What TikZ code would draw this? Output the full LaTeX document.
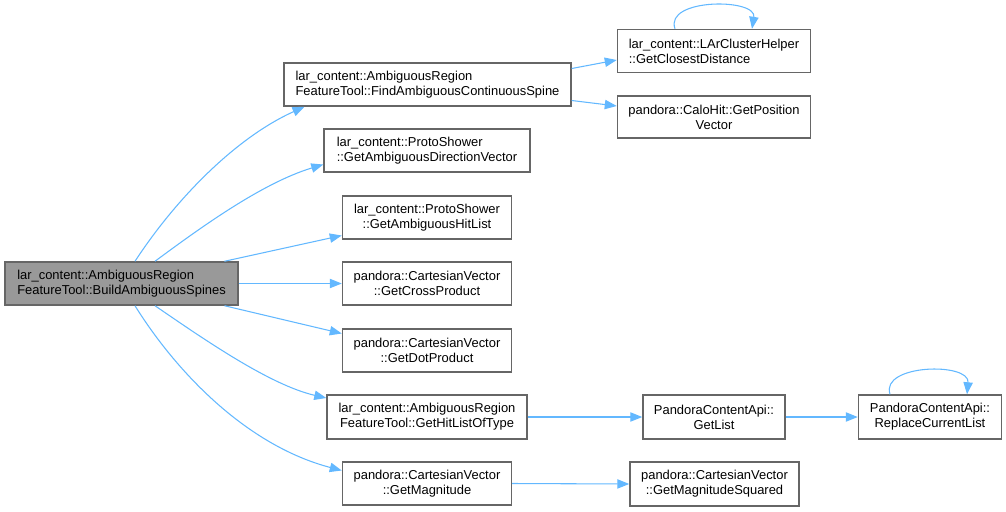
\documentclass[tikz,border=0pt]{standalone}
\usepackage{fontspec}
\setmainfont{Liberation Sans}
\usetikzlibrary{arrows.meta}
\definecolor{edgeblue}{HTML}{63B8FF}
\definecolor{boxborder}{HTML}{666666}
\definecolor{mainfill}{HTML}{999999}
\tikzset{
  fn/.style 2 args={draw=boxborder, line width=1.1pt, fill=white, inner sep=0pt,
    minimum width={#1*0.75pt}, minimum height={#2*0.75pt},
    font=\fontsize{9.7pt}{11.3pt}\selectfont, align=center},
  mainfn/.style={fill=mainfill},
  call/.style={draw=edgeblue, line width=0.8pt, -{Triangle[length=9pt,width=7pt]}},
}
\begin{document}
\begin{tikzpicture}[x=0.75pt,y=-0.75pt]
\useasboundingbox (0,0) rectangle (1006,511);
% nodes (centres in px)
\node[fn={233}{43}, mainfn, align=left] (main) at (121.5,283.5) {lar\_content::AmbiguousRegion\\FeatureTool::BuildAmbiguousSpines};
\node[fn={287}{43}, align=left] (find) at (427.5,84.5) {lar\_content::AmbiguousRegion\\FeatureTool::FindAmbiguousContinuousSpine};
\node[fn={193}{43}, align=left] (close) at (714,51) {lar\_content::LArClusterHelper\\::GetClosestDistance};
\node[fn={193}{42}] (calo) at (714,117) {pandora::CaloHit::GetPosition\\Vector};
\node[fn={206}{43}, align=left] (dirv) at (427,150.5) {lar\_content::ProtoShower\\::GetAmbiguousDirectionVector};
\node[fn={169}{43}] (hitl) at (427,217.5) {lar\_content::ProtoShower\\::GetAmbiguousHitList};
\node[fn={169}{43}] (cross) at (427,283.5) {pandora::CartesianVector\\::GetCrossProduct};
\node[fn={169}{43}] (dot) at (427,350.5) {pandora::CartesianVector\\::GetDotProduct};
\node[fn={200}{44}] (hlot) at (427,417) {lar\_content::AmbiguousRegion\\FeatureTool::GetHitListOfType};
\node[fn={169}{43}] (mag) at (427,483.5) {pandora::CartesianVector\\::GetMagnitude};
\node[fn={142}{44}] (getl) at (714,417) {PandoraContentApi::\\GetList};
\node[fn={143}{44}] (repl) at (930,417) {PandoraContentApi::\\ReplaceCurrentList};
\node[fn={169}{44}] (msq) at (714.5,484) {pandora::CartesianVector\\::GetMagnitudeSquared};
% connectors
\draw[call] ([xshift={13.5*0.75pt}]main.north) .. controls (175,200) and (235,138) .. ([xshift={-123*0.75pt}]find.south);
\draw[call] ([xshift={33.5*0.75pt}]main.north) .. controls (200,228) and (262,183) .. ([yshift={-14*0.75pt}]dirv.west);
\draw[call] ([xshift={103*0.75pt}]main.north) -- ([yshift={-18*0.75pt}]hitl.west);
\draw[call] (main.east) -- (cross.west);
\draw[call] ([xshift={103*0.75pt}]main.south) -- ([yshift={17*0.75pt}]dot.west);
\draw[call] ([xshift={33.5*0.75pt}]main.south) .. controls (205,340) and (270,385) .. ([yshift={19*0.75pt}]hlot.west);
\draw[call] ([xshift={13.5*0.75pt}]main.south) .. controls (175,370) and (245,445) .. ([yshift={13*0.75pt}]mag.west);
\draw[call] ([yshift={16*0.75pt}]find.east) -- ([yshift={-9*0.75pt}]close.west);
\draw[call] ([yshift={-16*0.75pt}]find.east) -- ([yshift={11*0.75pt}]calo.west);
\draw[call] (hlot.east) -- (getl.west);
\draw[call] (getl.east) -- (repl.west);
\draw[call] (mag.east) -- (msq.west);
% self loops
\draw[call] ([xshift={-39*0.75pt}]close.north) .. controls (664,-2) and (757,-2) .. ([xshift={38*0.75pt}]close.north);
\draw[call] ([xshift={-40*0.75pt}]repl.north) .. controls (880,364) and (970,362) .. ([xshift={37*0.75pt}]repl.north);
\end{tikzpicture}
\end{document}
